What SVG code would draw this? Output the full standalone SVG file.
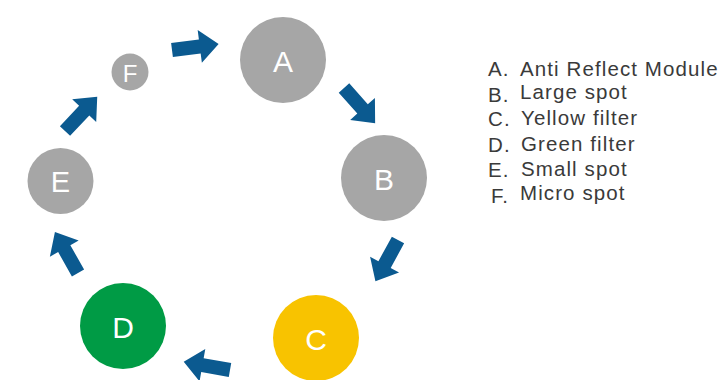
<svg xmlns="http://www.w3.org/2000/svg" xmlns:xlink="http://www.w3.org/1999/xlink" width="728" height="380" viewBox="0 0 728 380">
<style>
.gray{fill:#a6a6a6}
.green{fill:#009b45}
.yellow{fill:#f8c300}
.lbl{font-family:"Liberation Sans",Arial,sans-serif;fill:#fff;text-anchor:middle;dominant-baseline:central}
.leg{font-family:"Liberation Sans",Arial,sans-serif;font-size:20.5px;fill:#3a3a3a;letter-spacing:1.1px}
.arrow{fill:#0b5a90}
</style>
<defs>
<path id="arr" d="M0,-7 L28,-7 L28,-16.5 L47,0 L28,16.5 L28,7 L0,7 Z"/>
</defs>
<rect width="728" height="380" fill="#fff"/>
<g id="connectors" class="arrow">
<use xlink:href="#arr" href="#arr" transform="translate(172,50) rotate(-7.3)"/>
<use xlink:href="#arr" href="#arr" transform="translate(344,88) rotate(48.5)"/>
<use xlink:href="#arr" href="#arr" transform="translate(398,240) rotate(118.7)"/>
<use xlink:href="#arr" href="#arr" transform="translate(230,370) rotate(190)"/>
<use xlink:href="#arr" href="#arr" transform="translate(78,273) rotate(240.6)"/>
<use xlink:href="#arr" href="#arr" transform="translate(65,131) rotate(-46.7)"/>
</g>
<g id="node-A"><circle class="gray" cx="283" cy="60" r="43"/><text class="lbl" x="283" y="61" font-size="30">A</text></g>
<g id="node-B"><circle class="gray" cx="384" cy="178" r="43"/><text class="lbl" x="384" y="179" font-size="30">B</text></g>
<g id="node-C"><circle class="yellow" cx="316" cy="338" r="43"/><text class="lbl" x="316" y="339" font-size="30">C</text></g>
<g id="node-D"><circle class="green" cx="123" cy="326" r="43"/><text class="lbl" x="123" y="327" font-size="30">D</text></g>
<g id="node-E"><circle class="gray" cx="60.5" cy="181" r="33"/><text class="lbl" x="60.5" y="182" font-size="29">E</text></g>
<g id="node-F"><circle class="gray" cx="130" cy="72" r="18.5"/><text class="lbl" x="130" y="73" font-size="24">F</text></g>
<g id="legend">
<text class="leg" x="488" y="76">A.</text><text class="leg" x="520" y="76">Anti Reflect Module</text>
<text class="leg" x="488" y="101.5">B.</text><text class="leg" x="520" y="99">Large spot</text>
<text class="leg" x="488" y="125.5">C.</text><text class="leg" x="521" y="125">Yellow filter</text>
<text class="leg" x="488" y="152">D.</text><text class="leg" x="521" y="151">Green filter</text>
<text class="leg" x="488" y="177">E.</text><text class="leg" x="521" y="176">Small spot</text>
<text class="leg" x="491" y="203">F.</text><text class="leg" x="520" y="200">Micro spot</text>
</g>
</svg>
